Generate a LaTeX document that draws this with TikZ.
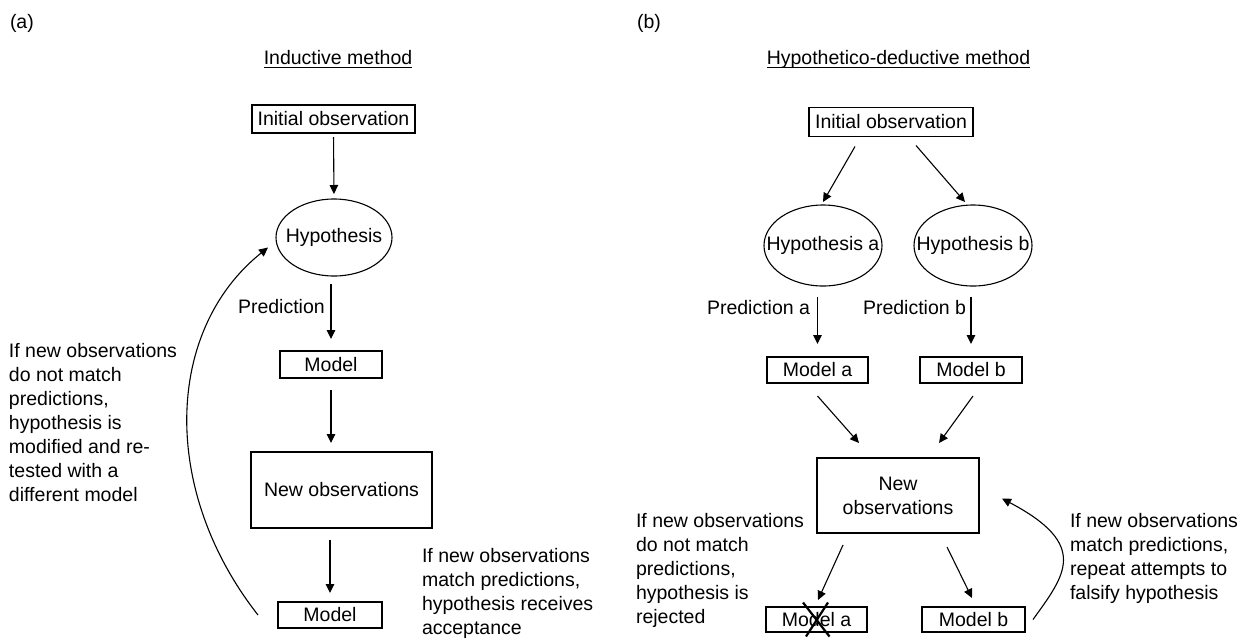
\documentclass[tikz,border=0pt]{standalone}
\usepackage{fontspec}
\setmainfont{Liberation Sans}
\usetikzlibrary{arrows.meta}
\begin{document}
\begin{tikzpicture}[x=1pt,y=-1pt,
  every node/.style={font=\fontsize{19.5}{24}\selectfont, inner sep=0pt, outer sep=0pt},
  box/.style={draw, line width=1.1pt},
  hyp/.style={minimum width=#1, minimum height=77pt},
  arr/.style={line width=1.1pt, -{Triangle[length=9pt,width=8.5pt]}},
  para/.style={anchor=north west, align=left},
  uline/.style={line width=1pt},
  cross/.style={line width=2.2pt}]
\useasboundingbox (0,0) rectangle (1246,638);

% ---------------- (a) inductive method ----------------
\node[anchor=west] (la) at (10,23) {(a)};
\node[anchor=base] (ta) at (338,64) {Inductive method};
\draw[uline] ([yshift=-3pt]ta.base west) -- ([yshift=-3pt]ta.base east);

\node[box, minimum width=163pt, minimum height=28pt] (ia) at (333.5,119) {Initial observation};
\node[hyp=116pt] (ha) at (334,237.5) {Hypothesis};
\draw[line width=1.1pt] (ha.center) ellipse [x radius=58pt, y radius=38.5pt];
\node[anchor=base west] (pa) at (238,313) {Prediction};
\node[box, minimum width=102pt, minimum height=27pt] (ma) at (331,364.5) {Model};
\node[box, minimum width=181pt, minimum height=76pt] (na) at (341.5,490) {New observations};
\node[box, minimum width=104pt, minimum height=26pt] (mb) at (330,615) {Model};

\draw[arr, shorten <=4pt, shorten >=5pt] (ia.south) -- (ha.north);
\draw[arr, shorten <=8pt, shorten >=12pt] (ha.south -| ma.north) -- (ma.north);
\draw[arr, shorten <=12pt, shorten >=9pt] (ma.south) -- (ma.south |- na.north);
\draw[arr, shorten <=12pt, shorten >=9pt] (mb.north |- na.south) -- (mb.north);
\draw[arr] ([xshift=-20pt]mb.west) .. controls (160,490) and (165,330) .. ([shift={(-8pt,-10pt)}]ha.west);

\node[para] (txa1) at (9,343) {If new observations\\do not match\\predictions,\\hypothesis is\\modified and re-\\tested with a\\different model};
\node[para] (txa2) at (422,548) {If new observations\\match predictions,\\hypothesis receives\\acceptance};

% ---------------- (b) hypothetico-deductive method ----------------
\node[anchor=west] (lb) at (637,23) {(b)};
\node[anchor=base] (tb) at (898.5,64) {Hypothetico-deductive method};
\draw[uline] ([yshift=-3pt]tb.base west) -- ([yshift=-3pt]tb.base east);

\node[box, minimum width=164pt, minimum height=29pt] (ib) at (891,122) {Initial observation};
\node[hyp=118pt, minimum height=81pt] (hba) at (823,245.5) {Hypothesis a};
\node[hyp=118pt, minimum height=81pt] (hbb) at (973,245.5) {Hypothesis b};
\draw[line width=1.1pt] (hba.center) ellipse [x radius=59pt, y radius=40.5pt];
\draw[line width=1.1pt] (hbb.center) ellipse [x radius=59pt, y radius=40.5pt];

\draw[arr] ([shift={(-36pt,-10pt)}]ib.south) -- ([yshift=3pt]hba.north);
\draw[arr] ([shift={(25pt,-9pt)}]ib.south) -- ([shift={(-8pt,3pt)}]hbb.north);

\node[anchor=base west] (pba) at (707,314) {Prediction a};
\node[anchor=base west] (pbb) at (863,314) {Prediction b};
\node[box, minimum width=101pt, minimum height=26pt] (mba) at (817.5,370) {Model a};
\node[box, minimum width=102pt, minimum height=26pt] (mbb) at (971,370) {Model b};

\draw[arr, shorten <=11pt, shorten >=13pt] (hba.south -| mba.north) -- (mba.north);
\draw[arr, shorten <=11pt, shorten >=13pt] (hbb.south -| mbb.north) -- (mbb.north);

\node[box, align=center, minimum width=162pt, minimum height=75pt] (nb) at (898,495.5) {New\\observations};

\draw[arr] ([yshift=-13pt]mba.south) -- ([shift={(-39pt,15pt)}]nb.north);
\draw[arr] ([shift={(2pt,-13pt)}]mbb.south) -- ([shift={(41pt,15pt)}]nb.north);

\node[box, minimum width=101pt, minimum height=25pt] (mxa) at (816.5,619.5) {Model a};
\node[box, minimum width=103pt, minimum height=25pt] (mxb) at (973.5,619.5) {Model b};

\draw[arr] ([shift={(-55pt,-12pt)}]nb.south) -- ([shift={(1.5pt,7pt)}]mxa.north);
\draw[arr] ([shift={(49pt,-14pt)}]nb.south) -- ([shift={(-1.5pt,9pt)}]mxb.north);

% the rejected model is struck through
\draw[cross] ([shift={(-13.5pt,17pt)}]mxa.center) -- ([shift={(13pt,-17pt)}]mxa.center);
\draw[cross] ([shift={(11.5pt,17pt)}]mxa.center) -- ([shift={(-10.5pt,-17pt)}]mxa.center);

\draw[arr] ([xshift=8pt]mxb.east) .. controls (1065,575) and (1090,545) .. ([shift={(23pt,-3pt)}]nb.east);

\node[para] (txb1) at (636,513) {If new observations\\do not match\\predictions,\\hypothesis is\\rejected};
\node[para] (txb2) at (1070,513) {If new observations\\match predictions,\\repeat attempts to\\falsify hypothesis};
\end{tikzpicture}
\end{document}
